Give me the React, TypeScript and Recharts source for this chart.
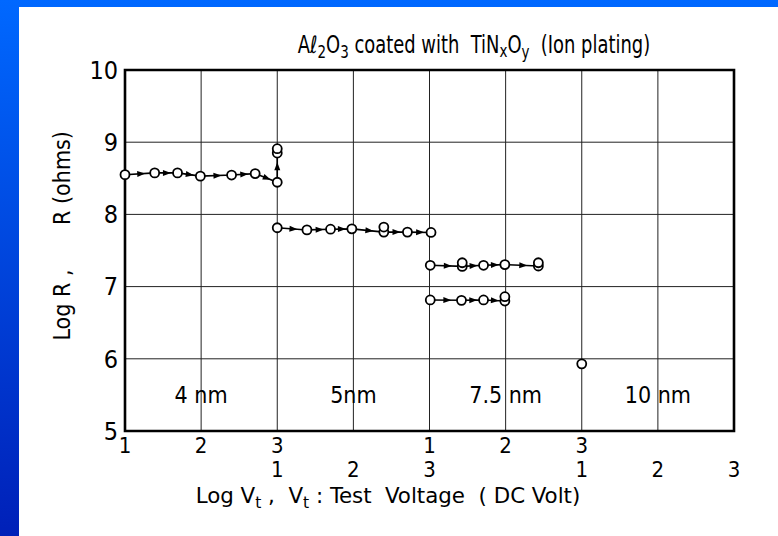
import React from "react";
import {
  ComposedChart,
  Line,
  Scatter,
  XAxis,
  YAxis,
  CartesianGrid,
  ReferenceArea,
} from "recharts";

// x is the position along the (stacked) log voltage scale, y is Log R
const xTicks = [0, 1, 2, 3, 4, 5, 6, 7, 8];
const rowOne = ["1", "2", "3", "", "1", "2", "3", "", ""];
const rowTwo = ["", "", "1", "2", "3", "", "1", "2", "3"];
const yTicks = [5, 6, 7, 8, 9, 10];

const run4nm = [
  { x: 0, y: 8.55 },
  { x: 0.39, y: 8.575 },
  { x: 0.69, y: 8.575 },
  { x: 0.99, y: 8.53 },
  { x: 1.4, y: 8.545 },
  { x: 1.71, y: 8.565 },
  { x: 2.0, y: 8.445 },
  { x: 2.0, y: 8.85 },
];
const run5nm = [
  { x: 2.0, y: 7.815 },
  { x: 2.39, y: 7.785 },
  { x: 2.7, y: 7.795 },
  { x: 2.98, y: 7.8 },
  { x: 3.4, y: 7.755 },
  { x: 3.71, y: 7.755 },
  { x: 4.02, y: 7.75 },
];
const run75upper = [
  { x: 4.01, y: 7.295 },
  { x: 4.43, y: 7.28 },
  { x: 4.71, y: 7.295 },
  { x: 4.99, y: 7.305 },
  { x: 5.43, y: 7.285 },
];
const run75lower = [
  { x: 4.01, y: 6.815 },
  { x: 4.42, y: 6.81 },
  { x: 4.71, y: 6.815 },
  { x: 4.99, y: 6.8 },
];
const repeats = [
  { x: 2.0, y: 8.91 },
  { x: 3.4, y: 7.825 },
  { x: 4.43, y: 7.33 },
  { x: 5.43, y: 7.33 },
  { x: 4.99, y: 6.86 },
];
const run10nm = [{ x: 6.0, y: 5.93 }];

const regions = [
  { x1: 0, x2: 2, text: "4 nm" },
  { x1: 2, x2: 4, text: "5nm" },
  { x1: 4, x2: 6, text: "7.5 nm" },
  { x1: 6, x2: 8, text: "10 nm" },
];

const FONT = "'Liberation Sans Narrow', 'DejaVu Sans Condensed', sans-serif";

const ArrowDot = (props: any) => {
  const { cx, cy, index, points } = props;
  let arrow = null;
  if (points && index < points.length - 1) {
    const n = points[index + 1];
    const dx = n.x - cx;
    const dy = n.y - cy;
    const len = Math.sqrt(dx * dx + dy * dy);
    if (len > 12) {
      const ux = dx / len;
      const uy = dy / len;
      const tx = cx + dx * 0.58 + ux * 3;
      const ty = cy + dy * 0.58 + uy * 3;
      const bx = tx - ux * 8;
      const by = ty - uy * 8;
      arrow = (
        <polygon
          points={`${tx},${ty} ${bx - uy * 3},${by + ux * 3} ${bx + uy * 3},${by - ux * 3}`}
          fill="#000"
        />
      );
    }
  }
  return (
    <g key={`d-${index}`}>
      {arrow}
      <circle cx={cx} cy={cy} r={4.5} fill="#fff" stroke="#000" strokeWidth={1.8} />
    </g>
  );
};

const Ring = (props: any) => (
  <circle cx={props.cx} cy={props.cy} r={4.5} fill="#fff" stroke="#000" strokeWidth={1.8} />
);

const XTick = (props: any) => {
  const { x, y, payload } = props;
  const i = xTicks.indexOf(payload.value);
  return (
    <g fontFamily={FONT} fontSize={22} fill="#000">
      <text x={x} y={y + 22} textAnchor="middle">
        {rowOne[i]}
      </text>
      <text x={x} y={y + 46} textAnchor="middle">
        {rowTwo[i]}
      </text>
    </g>
  );
};

const RegionLabel = (props: any) => {
  const { viewBox, value } = props;
  return (
    <text
      x={viewBox.x + viewBox.width / 2}
      y={viewBox.y + viewBox.height / 2 + 8}
      textAnchor="middle"
      fontFamily={FONT}
      fontSize={23}
      fill="#000"
    >
      {value}
    </text>
  );
};

export default function App() {
  const line = {
    stroke: "#000",
    strokeWidth: 1.6,
    dot: ArrowDot,
    activeDot: false,
    isAnimationActive: false,
    legendType: "none" as const,
    dataKey: "y",
  };
  return (
    <div
      style={{
        position: "absolute",
        left: 0,
        top: 0,
        width: 778,
        height: 536,
        background: "linear-gradient(to bottom, #0068ff, #0020b8)",
        overflow: "hidden",
      }}
    >
      <div
        style={{ position: "absolute", left: 19, top: 7, right: 0, bottom: 0, background: "#fff" }}
      />
      <div style={{ position: "absolute", left: 0, top: 0 }}>
        <ComposedChart
          width={778}
          height={536}
          margin={{ top: 70, right: 44, bottom: 45, left: 60 }}
        >
          <CartesianGrid stroke="#222" strokeWidth={1} />
          <XAxis
            type="number"
            dataKey="x"
            domain={[0, 8]}
            ticks={xTicks}
            interval={0}
            axisLine={false}
            tickLine={false}
            tickSize={0}
            tickMargin={0}
            height={60}
            tick={XTick}
          />
          <YAxis
            type="number"
            dataKey="y"
            domain={[5, 10]}
            ticks={yTicks}
            interval={0}
            axisLine={false}
            tickLine={false}
            tickSize={0}
            tickMargin={7}
            width={65}
            tick={{ fontSize: 25, fill: "#000", fontFamily: FONT }}
          />
          {regions.map((r) => (
            <ReferenceArea
              key={r.text}
              x1={r.x1}
              x2={r.x2}
              y1={5}
              y2={6}
              fill="none"
              stroke="none"
              label={<RegionLabel value={r.text} />}
            />
          ))}
          <ReferenceArea x1={0} x2={8} y1={5} y2={10} fill="none" stroke="#000" strokeWidth={2.6} />
          <Line data={run4nm} {...line} />
          <Line data={run5nm} {...line} />
          <Line data={run75upper} {...line} />
          <Line data={run75lower} {...line} />
          <Scatter data={repeats} dataKey="y" shape={Ring} isAnimationActive={false} />
          <Scatter data={run10nm} dataKey="y" shape={Ring} isAnimationActive={false} />
        </ComposedChart>
      </div>
      <svg
        width={778}
        height={536}
        style={{ position: "absolute", left: 0, top: 0, pointerEvents: "none" }}
        fontFamily={FONT}
        fill="#000"
      >
        <g transform="translate(474,53) scale(0.83,1)">
          <text x={0} y={0} textAnchor="middle" fontSize={24} style={{ whiteSpace: "pre" }}>
            A<tspan>ℓ</tspan>
            <tspan dy={5} fontSize={18}>2</tspan>
            <tspan dy={-5}>O</tspan>
            <tspan dy={5} fontSize={18}>3</tspan>
            <tspan dy={-5}>{" coated with  TiN"}</tspan>
            <tspan dy={4} fontSize={18}>x</tspan>
            <tspan dy={-4}>O</tspan>
            <tspan dy={5} fontSize={18}>y</tspan>
            <tspan dy={-5}>{"  (Ion plating)"}</tspan>
          </text>
        </g>
        <g transform="translate(70,305) rotate(-90)">
          <text x={0} y={0} textAnchor="middle" fontSize={23} style={{ whiteSpace: "pre" }}>
            {"Log R ,"}
          </text>
        </g>
        <g transform="translate(70,178) rotate(-90)">
          <text x={0} y={0} textAnchor="middle" fontSize={23} style={{ whiteSpace: "pre" }}>
            {"R (ohms)"}
          </text>
        </g>
        <g transform="translate(388,503) scale(1.08,1)">
          <text x={0} y={0} textAnchor="middle" fontSize={22} style={{ whiteSpace: "pre" }}>
            {"Log V"}
            <tspan dy={5} fontSize={16}>t</tspan>
            <tspan dy={-5}>{" ,  V"}</tspan>
            <tspan dy={5} fontSize={16}>t</tspan>
            <tspan dy={-5}>{" : Test  Voltage  ( DC Volt)"}</tspan>
          </text>
        </g>
      </svg>
    </div>
  );
}
